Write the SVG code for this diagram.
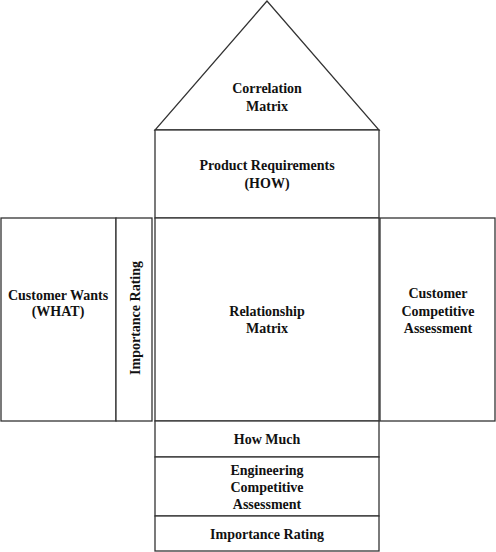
<svg xmlns="http://www.w3.org/2000/svg" width="496" height="552" viewBox="0 0 496 552">
<style>
.b{fill:#fff;stroke:#333;stroke-width:1.3}
.t{font-family:"Liberation Serif","Times New Roman",serif;font-weight:bold;font-size:14px;fill:#111;text-anchor:middle}
</style>
<rect width="496" height="552" fill="#fff"/>
<g id="roof"><polygon class="b" points="267,1 155,130 379,130"/><text class="t" x="267" y="93">Correlation</text><text class="t" x="267" y="111">Matrix</text></g>
<g id="how"><rect class="b" x="155" y="130" width="224" height="88"/><text class="t" x="267" y="170">Product Requirements</text><text class="t" x="267" y="188">(HOW)</text></g>
<g id="what"><rect class="b" x="1" y="218" width="115" height="203"/><text class="t" x="58" y="300">Customer Wants</text><text class="t" x="58" y="316">(WHAT)</text></g>
<g id="imp-left"><rect class="b" x="116" y="218" width="36" height="203"/><text class="t" transform="translate(140 318) rotate(-90)">Importance Rating</text></g>
<g id="rel"><rect class="b" x="155" y="218" width="224" height="203"/><text class="t" x="267" y="316">Relationship</text><text class="t" x="267" y="333">Matrix</text></g>
<g id="cca"><rect class="b" x="380" y="218" width="115" height="203"/><text class="t" x="438" y="298">Customer</text><text class="t" x="438" y="316">Competitive</text><text class="t" x="438" y="333">Assessment</text></g>
<g id="howmuch"><rect class="b" x="155" y="421" width="224" height="36"/><text class="t" x="267" y="444">How Much</text></g>
<g id="eca"><rect class="b" x="155" y="457" width="224" height="59"/><text class="t" x="267" y="475">Engineering</text><text class="t" x="267" y="492">Competitive</text><text class="t" x="267" y="509">Assessment</text></g>
<g id="imp-bottom"><rect class="b" x="155" y="516" width="224" height="35"/><text class="t" x="267" y="539">Importance Rating</text></g>
<g id="connectors"></g>
</svg>
